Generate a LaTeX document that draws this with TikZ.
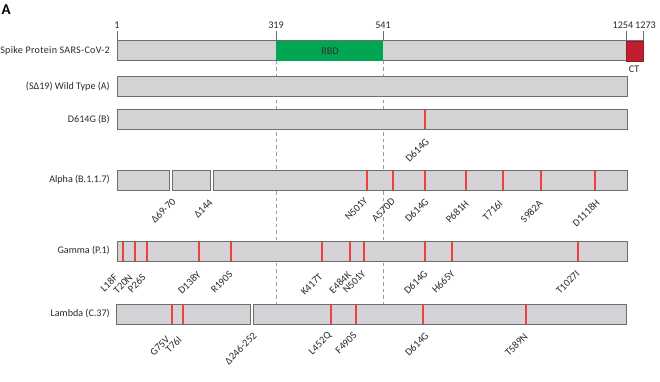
\documentclass[tikz,border=0pt]{standalone}
\usepackage{fontspec}
\setmainfont{Carlito}
\definecolor{barfill}{HTML}{D3D3D5}
\definecolor{barline}{HTML}{6D6E71}
\definecolor{rbdgreen}{HTML}{00A651}
\definecolor{ctred}{HTML}{BE1E2D}
\definecolor{mutred}{HTML}{EF4136}
\definecolor{guidegray}{HTML}{9A9A9C}
\definecolor{txt}{HTML}{2A2A2A}
\tikzset{
  bar/.style={fill=barfill, draw=barline, line width=1pt},
  mut/.style={draw=mutred, line width=1.6pt},
  mlab/.style={rotate=45, anchor=east, inner sep=0pt, text=txt, font=\fontsize{10.3}{11}\selectfont},
  rowlab/.style={anchor=east, inner sep=0pt, text=txt, font=\fontsize{10.1}{11}\selectfont},
  numlab/.style={anchor=center, inner sep=0pt, text=txt, font=\fontsize{10.2}{11}\selectfont},
  tickmark/.style={draw=barline, line width=1pt},
  guide/.style={draw=guidegray, dash pattern=on 3.5pt off 3pt, line width=0.9pt}
}
\begin{document}
\begin{tikzpicture}[x=1pt,y=-1pt]
\useasboundingbox[fill=white] (0,0) rectangle (660,382);
\node[anchor=west, inner sep=0pt, font=\fontsize{15}{15}\bfseries\selectfont] (panelA) at (1.5,9.5) {A};

% dashed guides
\coordinate (g1top) at (276,61); \coordinate (g1bot) at (276,304);
\coordinate (g2top) at (383,61); \coordinate (g2bot) at (383,304);
\draw[guide] (g1top) -- (g1bot);
\draw[guide] (g2top) -- (g2bot);

% ---------- Spike protein ----------
\draw[bar] (117,41) rectangle (643,61);
\fill[rbdgreen] (276,41) rectangle (383,61);
\draw[fill=ctred, draw=ctred!80!black, line width=0.6pt] (626,41) rectangle (643,61);
\node[numlab, text=black!80] (rbd) at (330,51) {RBD};
\node[numlab] (ct) at (634,69.5) {CT};
\foreach \xx/\lab in {117/1, 276/319, 383/541, 626/1254, 643/1273}{
  \draw[tickmark] (\xx,41) -- (\xx,31);
}
\node[numlab] (t1) at (117,25) {1};
\node[numlab] (t319) at (276,25) {319};
\node[numlab] (t541) at (383,25) {541};
\node[numlab, anchor=east] (t1254) at (633.5,25) {1254};
\node[numlab, anchor=west] (t1273) at (635,25) {1273};
\node[rowlab] (lspike) at (110,51) {\addfontfeature{LetterSpace=2.8}Spike Protein SARS-CoV-2};

% ---------- Wild type ----------
\draw[bar] (117,77) rectangle (627,97);
\node[rowlab] (lwt) at (110,87) {(SΔ19) Wild Type (A)};

% ---------- D614G ----------
\draw[bar] (117,110) rectangle (627,130);
\draw[mut] (425,110.5) -- (425,129.5);
\node[mlab] (bd614g) at (427.5,140) {D614G};
\node[rowlab] (ld) at (110,120) {D614G (B)};

% ---------- Alpha ----------
\draw[bar] (117,170) rectangle (169.7,190);
\draw[bar] (172,170) rectangle (210.7,190);
\draw[bar] (213.3,170) rectangle (627,190);
\foreach \xx in {367,393,425,466,503,541,595}{
  \draw[mut] (\xx,170.5) -- (\xx,189.5);
}
\node[rowlab] (lalpha) at (110,180) {Alpha (B.1.1.7)};
\node[mlab] (a1) at (174,200) {Δ69-70};
\node[mlab] (a2) at (211,201) {Δ144};
\node[mlab] (a3) at (366,199) {N501Y};
\node[mlab] (a4) at (393.5,200) {A570D};
\node[mlab] (a5) at (427,200) {D614G};
\node[mlab] (a6) at (467,202) {P681H};
\node[mlab] (a7) at (501,202) {T716I};
\node[mlab] (a8) at (541,202) {S982A};
\node[mlab] (a9) at (598,201) {D1118H};

% ---------- Gamma ----------
\draw[bar] (117,241) rectangle (627,261);
\foreach \xx in {123,135,147,199,231,322,350,364,425,452,578}{
  \draw[mut] (\xx,241.5) -- (\xx,260.5);
}
\node[rowlab] (lgamma) at (110,251) {Gamma (P.1)};
\node[mlab] (c1) at (116,276) {L18F};
\node[mlab] (c2) at (131,276) {T20N};
\node[mlab] (c3) at (144,276) {P26S};
\node[mlab] (c4) at (199,273) {D138Y};
\node[mlab] (c5) at (231,273) {R190S};
\node[mlab] (c6) at (321,275) {K417T};
\node[mlab] (c7) at (349.5,273) {E484K};
\node[mlab] (c8) at (364,272) {N501Y};
\node[mlab] (c9) at (426,272) {D614G};
\node[mlab] (c10) at (453,272) {H665Y};
\node[mlab] (c11) at (578,272) {T1027I};

% ---------- Lambda ----------
\draw[bar] (116,304) rectangle (250.7,324);
\draw[bar] (253.3,304) rectangle (626,324);
\foreach \xx in {172,183,331,356,423,526}{
  \draw[mut] (\xx,304.5) -- (\xx,323.5);
}
\node[rowlab] (llambda) at (110,314) {Lambda (C.37)};
\node[mlab] (d1) at (168,338) {G75V};
\node[mlab] (d2) at (180,338) {T76I};
\node[mlab] (d3) at (255,334) {Δ246-252};
\node[mlab] (d4) at (330,334) {L452Q};
\node[mlab] (d5) at (355,334) {F490S};
\node[mlab] (d6) at (427,334) {D614G};
\node[mlab] (d7) at (526,335) {T589N};
\end{tikzpicture}
\end{document}
